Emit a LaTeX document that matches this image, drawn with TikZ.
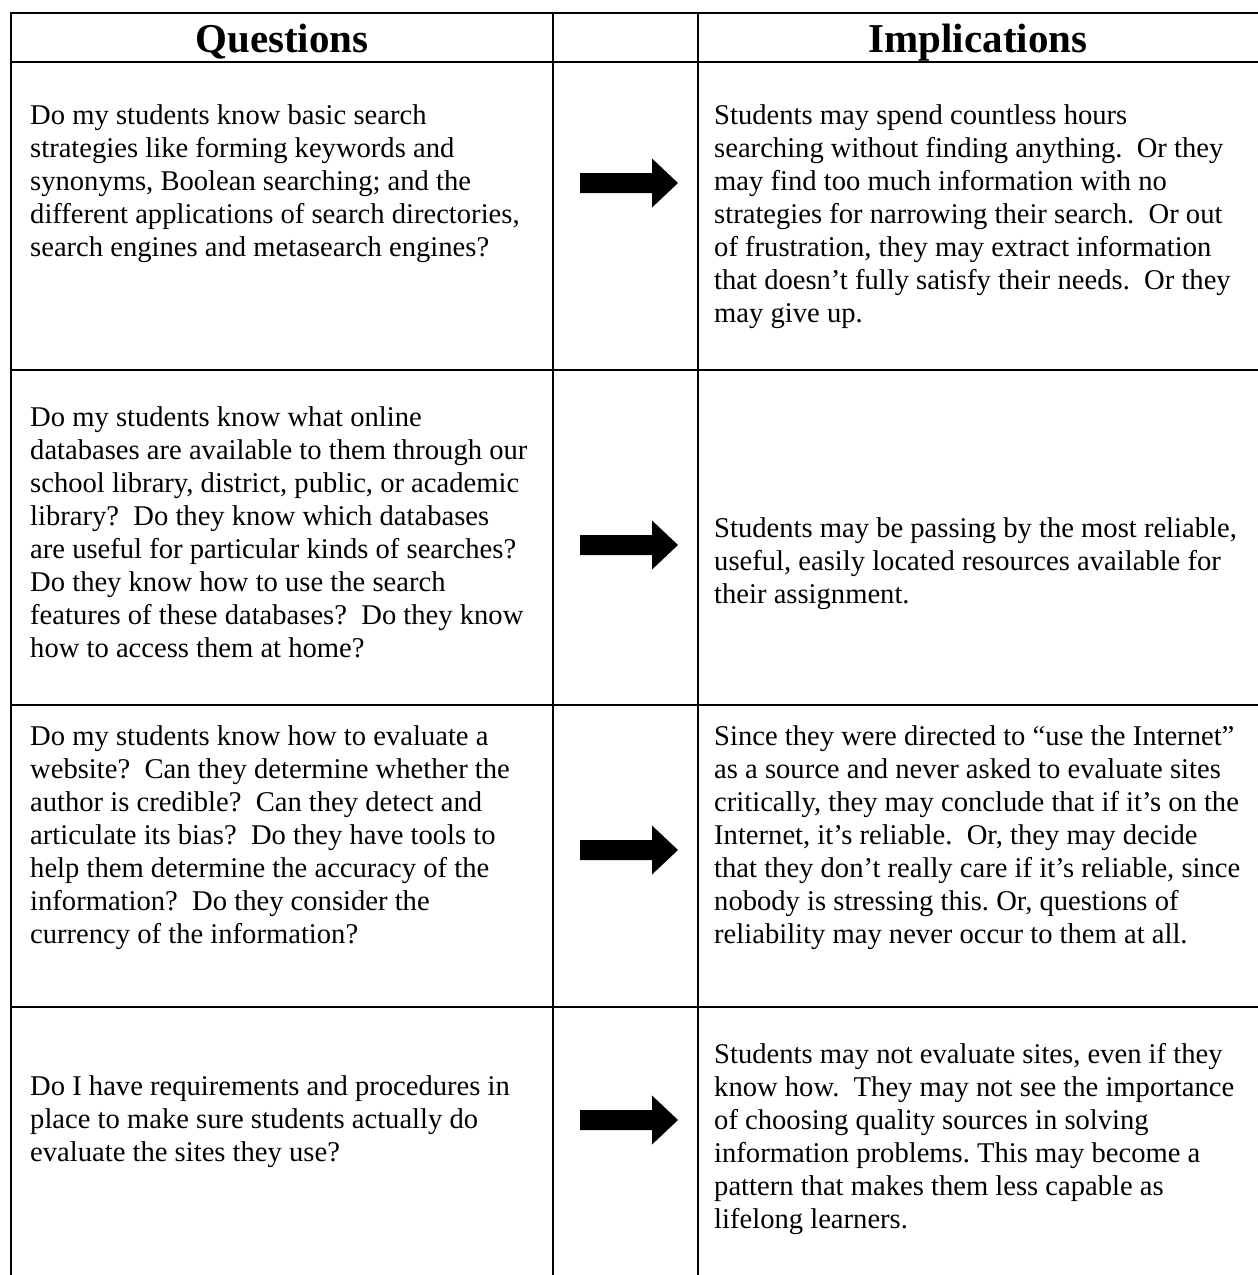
\documentclass[tikz,border=0pt]{standalone}
\usepackage{fontspec}
\setmainfont{Liberation Serif}
\frenchspacing
\begin{document}
\begin{tikzpicture}[x=1pt,y=-1pt,
  rule/.style={line width=2.6pt},
  body/.style={anchor=north west, inner sep=0pt, align=left,
    font=\fontsize{28.6}{33}\selectfont},
  head/.style={anchor=base, inner sep=0pt,
    font=\fontsize{41}{48}\selectfont\bfseries},
  blockarrow/.pic={\fill (-49,-10) -- (23,-10) -- (23,-24.5) -- (49,0)
    -- (23,24.5) -- (23,10) -- (-49,10) -- cycle;}
]
\useasboundingbox (0,0) rectangle (1258,1275);

% table rules
\draw[rule] (11,13) -- (1258,13);
\draw[rule] (11,62) -- (1258,62);
\draw[rule] (11,370) -- (1258,370);
\draw[rule] (11,705) -- (1258,705);
\draw[rule] (11,1007) -- (1258,1007);
\draw[rule] (11,11.7) -- (11,1275);
\draw[rule] (553,13) -- (553,1275);
\draw[rule] (698,13) -- (698,1275);

% headings
\node[head] (hq) at (282,52) {Questions};
\node[head] (hi) at (978,52) {Implications};

% row 1
\node[body] (q1) at (30,100.9) {\strut Do my students know basic search\\
strategies like forming keywords and\\
synonyms, Boolean searching; and the\\
different applications of search directories,\\
search engines and metasearch engines?};
\pic at (629,183) {blockarrow};
\node[body] (i1) at (714,100.9) {\strut Students may spend countless hours\\
searching without finding anything.\ \ Or they\\
may find too much information with no\\
strategies for narrowing their search.\ \ Or out\\
of frustration, they may extract information\\
that doesn’t fully satisfy their needs.\ \ Or they\\
may give up.};

% row 2
\node[body] (q2) at (30,402.9) {\strut Do my students know what online\\
databases are available to them through our\\
school library, district, public, or academic\\
library?\ \ Do they know which databases\\
are useful for particular kinds of searches?\\
Do they know how to use the search\\
features of these databases?\ \ Do they know\\
how to access them at home?};
\pic at (629,545) {blockarrow};
\node[body] (i2) at (714,513.9) {\strut Students may be passing by the most reliable,\\
useful, easily located resources available for\\
their assignment.};

% row 3
\node[body] (q3) at (30,721.9) {\strut Do my students know how to evaluate a\\
website?\ \ Can they determine whether the\\
author is credible?\ \ Can they detect and\\
articulate its bias?\ \ Do they have tools to\\
help them determine the accuracy of the\\
information?\ \ Do they consider the\\
currency of the information?};
\pic at (629,850) {blockarrow};
\node[body] (i3) at (714,721.9) {\strut Since they were directed to “use the Internet”\\
as a source and never asked to evaluate sites\\
critically, they may conclude that if it’s on the\\
Internet, it’s reliable.\ \ Or, they may decide\\
that they don’t really care if it’s reliable, since\\
nobody is stressing this. Or, questions of\\
reliability may never occur to them at all.};

% row 4
\node[body] (q4) at (30,1071.9) {\strut Do I have requirements and procedures in\\
place to make sure students actually do\\
evaluate the sites they use?};
\pic at (629,1120) {blockarrow};
\node[body] (i4) at (714,1039.9) {\strut Students may not evaluate sites, even if they\\
know how.\ \ They may not see the importance\\
of choosing quality sources in solving\\
information problems. This may become a\\
pattern that makes them less capable as\\
lifelong learners.};
\end{tikzpicture}
\end{document}
